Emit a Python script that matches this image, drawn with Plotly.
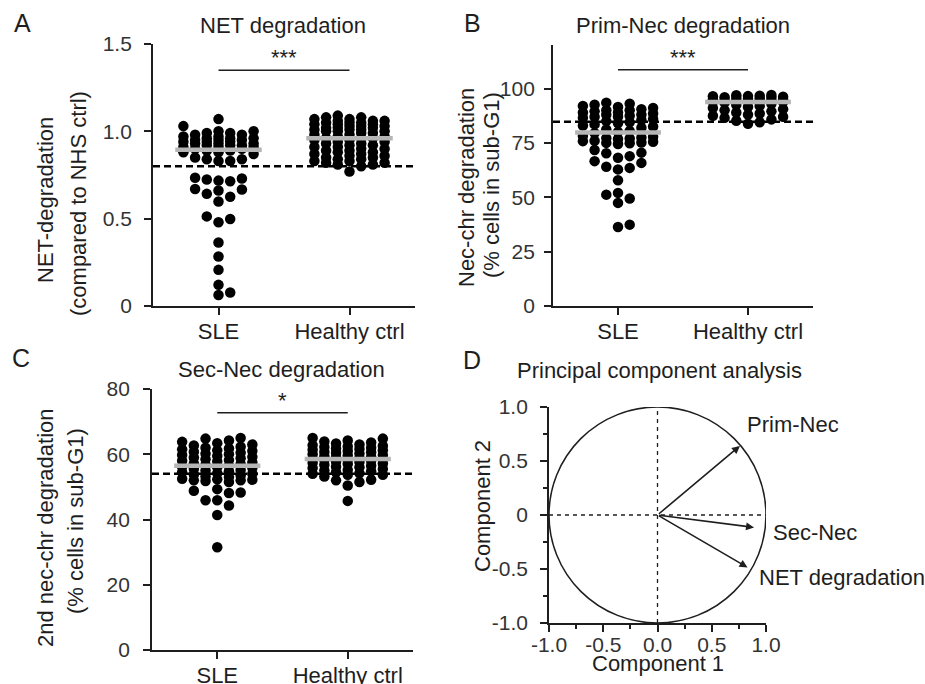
import numpy as np
import plotly.graph_objects as go

# ---------------- data ----------------
categories = ["SLE", "Healthy ctrl"]

net_sle = [1.07, 1.03, 1.00, 1.00, 0.99, 0.99, 0.98, 0.98, 0.97, 0.97, 0.96, 0.96, 0.96, 0.95, 0.95,
           0.95, 0.94, 0.94, 0.94, 0.93, 0.93, 0.93, 0.92, 0.92, 0.92, 0.91, 0.91, 0.91, 0.90, 0.90,
           0.89, 0.89, 0.88, 0.88, 0.87, 0.85, 0.84, 0.84, 0.83, 0.83,
           0.734, 0.724, 0.714, 0.718, 0.73, 0.661, 0.67, 0.667, 0.642, 0.625, 0.598, 0.513, 0.498,
           0.479, 0.364, 0.283, 0.207, 0.121, 0.063, 0.077]
net_hc = [1.09, 1.08, 1.08, 1.07, 1.07, 1.06, 1.06, 1.06, 1.05, 1.05, 1.05, 1.04, 1.04, 1.04, 1.03,
          1.03, 1.03, 1.02, 1.02, 1.02, 1.01, 1.01, 1.01, 1.00, 1.00, 1.00, 0.99, 0.99, 0.98, 0.98,
          0.97, 0.97, 0.96, 0.96, 0.96, 0.95, 0.95, 0.94, 0.94, 0.93, 0.93, 0.92, 0.92, 0.91, 0.91,
          0.90, 0.90, 0.89, 0.89, 0.88, 0.88, 0.87, 0.87, 0.86, 0.86, 0.85, 0.85, 0.84, 0.84, 0.83,
          0.83, 0.82, 0.82, 0.81, 0.81, 0.80, 0.77]

prim_sle = [36.3, 37.4, 47.4, 49.4, 51.2, 52.0, 57.8, 62.8, 63.5, 64.0, 65.8, 66.6, 68.2, 68.9, 70.2,
            70.5, 71.7, 74.5, 74.8, 75.0, 75.2, 75.5, 75.8, 76.0, 76.8, 77.0, 77.2, 77.5, 77.8, 78.2,
            79.5, 80.5, 81.2, 82.0, 82.5, 83.0, 83.5, 84.0, 84.5, 85.0, 85.5, 86.0, 86.5, 87.0, 87.0,
            87.5, 88.0, 88.0, 88.5, 89.0, 89.0, 89.5, 90.0, 90.0, 90.5, 91.0, 91.5, 92.0, 92.5, 93.0,
            93.5, 80.0]
prim_hc = [97.0, 96.9, 96.7, 96.5, 96.4, 96.2, 96.0, 95.8, 95.6, 95.4, 95.2, 95.0, 94.8, 94.6, 94.4,
           94.2, 94.0, 94.0, 93.9, 93.8, 93.5, 93.0, 92.5, 92.0, 91.5, 91.0, 90.5, 90.0, 89.5, 89.0,
           88.5, 88.0, 87.5, 87.0, 86.5, 85.8, 85.2, 84.5, 83.8]

sec_sle = [31.5, 41.4, 44.3, 45.9, 45.9, 48.1, 48.3, 48.8, 49.3, 51.5, 51.8, 52.0, 52.0, 52.2, 52.3,
           52.5, 53.0, 53.2, 53.5, 53.8, 54.0, 54.2, 54.5, 54.8, 55.0, 55.2, 55.5, 55.8, 56.0, 56.2,
           56.5, 56.8, 57.0, 57.2, 57.5, 57.8, 58.0, 58.2, 58.5, 58.8, 59.0, 59.2, 59.5, 59.8, 60.0,
           60.2, 60.5, 60.8, 61.0, 61.2, 61.5, 61.8, 62.0, 62.3, 62.7, 63.0, 63.4, 63.8, 64.2, 64.8,
           65.0]
sec_hc = [45.7, 50.4, 51.5, 52.0, 52.2, 53.2, 53.7, 53.7, 54.0, 54.2, 54.5, 54.8, 55.0, 55.2, 55.5,
          55.8, 56.0, 56.2, 56.5, 56.8, 57.0, 57.2, 57.4, 57.6, 57.8, 58.0, 58.2, 58.4, 58.5, 58.6,
          58.8, 59.0, 59.2, 59.4, 59.6, 59.8, 60.0, 60.2, 60.4, 60.6, 60.8, 61.0, 61.2, 61.4, 61.6,
          61.8, 62.0, 62.2, 62.4, 62.6, 62.8, 63.0, 63.3, 63.6, 63.9, 64.2, 64.8, 65.0]

net_cutoff, prim_cutoff, sec_cutoff = 0.80, 84.7, 54.0
net_sig, prim_sig, sec_sig = 1.35, 108.6, 72.7
net_stars, prim_stars, sec_stars = "***", "***", "*"

net_yticks = [0, 0.5, 1.0, 1.5]
net_yticktext = ["0", "0.5", "1.0", "1.5"]
prim_yticks = [0, 25, 50, 75, 100]
sec_yticks = [0, 20, 40, 60, 80]

pca_vars = ["Prim-Nec", "Sec-Nec", "NET degradation"]
pca_c1 = [0.76, 0.89, 0.83]
pca_c2 = [0.64, -0.115, -0.485]
pca_ticks = [-1.0, -0.5, 0.0, 0.5, 1.0]
pca_xticktext = ["-1.0", "-0.5", "0.0", "0.5", "1.0"]
pca_yticktext = ["-1.0", "-0.5", "0", "0.5", "1.0"]

# ---------------- layout helpers ----------------
W, H = 925, 684
FONT = "Liberation Sans, Arial, sans-serif"
INK = "#1e1e1e"
TICK = "#333333"


def dx(a, b):
    return [a / W, b / W]


def dy(top, bottom):
    return [1 - bottom / H, 1 - top / H]


def swarm_offsets(vals, px_per_cat, px_per_unit, step=11.7, min_d=9.5, ncols=3):
    vals = np.asarray(vals, float)
    order = np.argsort(vals, kind="stable")
    cands = [0]
    for k in range(1, ncols + 1):
        cands += [k, -k]
    placed = []
    offs = np.zeros(len(vals))
    for i in order:
        y = vals[i] * px_per_unit
        chosen, bestc, bestd = None, 0, -1.0
        for c in cands:
            x = c * step
            d = min([np.hypot(x - px, y - py) for px, py in placed], default=1e9)
            if d >= min_d:
                chosen = c
                break
            if d > bestd:
                bestd, bestc = d, c
        if chosen is None:
            chosen = bestc
        placed.append((chosen * step, y))
        offs[i] = chosen * step / px_per_cat
    return offs


panels = [
    dict(ax="", px=(153, 415), py=(44, 306), yr=(0, 1.5), groups=(net_sle, net_hc), cut=net_cutoff,
         sig=net_sig, stars=net_stars, yt=net_yticks, ytt=net_yticktext, ystand=8, xline0=-0.5),
    dict(ax="2", px=(553, 813), py=(45, 306), yr=(0, 120), groups=(prim_sle, prim_hc), cut=prim_cutoff,
         sig=prim_sig, stars=prim_stars, yt=prim_yticks, ytt=[str(v) for v in prim_yticks], ystand=5,
         xline0=-0.545),
    dict(ax="3", px=(152, 413), py=(389, 650), yr=(0, 80), groups=(sec_sle, sec_hc), cut=sec_cutoff,
         sig=sec_sig, stars=sec_stars, yt=sec_yticks, ytt=[str(v) for v in sec_yticks], ystand=9,
         xline0=-0.5),
]

fig = go.Figure()
annotations = []
shapes = []
layout_axes = {}

for p in panels:
    xa, ya = "x" + p["ax"], "y" + p["ax"]
    px_per_cat = (p["px"][1] - p["px"][0]) / 2.0
    px_per_unit = (p["py"][1] - p["py"][0]) / (p["yr"][1] - p["yr"][0])
    fig.add_trace(go.Scatter(x=[-0.5, 1.5], y=[p["cut"], p["cut"]], mode="lines", xaxis=xa, yaxis=ya,
                             line=dict(color="black", width=2.5, dash="7px,4px"), hoverinfo="skip",
                             showlegend=False, cliponaxis=False))
    for gi, vals in enumerate(p["groups"]):
        offs = swarm_offsets(vals, px_per_cat, px_per_unit)
        fig.add_trace(go.Scatter(x=gi + offs, y=vals, mode="markers", xaxis=xa, yaxis=ya,
                                 marker=dict(color="black", size=10.5, line=dict(width=0)),
                                 showlegend=False, cliponaxis=False))
    for gi, vals in enumerate(p["groups"]):
        med = float(np.median(vals))
        fig.add_trace(go.Scatter(x=[gi - 0.33, gi + 0.33], y=[med, med], mode="lines", xaxis=xa, yaxis=ya,
                                 line=dict(color="#b5b5b5", width=4.5), showlegend=False,
                                 hoverinfo="skip", cliponaxis=False))
    fig.add_trace(go.Scatter(x=[0, 1], y=[p["sig"], p["sig"]], mode="lines", xaxis=xa, yaxis=ya,
                             line=dict(color=INK, width=1.5), showlegend=False, hoverinfo="skip",
                             cliponaxis=False))
    annotations.append(dict(x=0.5, y=p["sig"], xref=xa, yref=ya, text=p["stars"], showarrow=False,
                            yanchor="bottom", yshift=-2, font=dict(size=22, color=INK, family=FONT)))
    if p["xline0"] < -0.5:
        # small overhang of the x-axis line to the left of the y axis (panel B)
        shapes.append(dict(type="line", xref=xa, yref=ya, x0=p["xline0"], x1=-0.5, y0=0, y1=0,
                           line=dict(color=INK, width=1.8)))
    xkey = "xaxis" + p["ax"]
    ykey = "yaxis" + p["ax"]
    layout_axes[xkey] = dict(domain=dx(*p["px"]), anchor=ya, range=[-0.5, 1.5], tickmode="array",
                             tickvals=[0, 1], ticktext=categories, showline=True, linecolor=INK,
                             linewidth=1.8, ticks="outside", ticklen=7, tickwidth=1.8, tickcolor=INK,
                             tickfont=dict(size=22, color=INK, family=FONT), showgrid=False,
                             zeroline=False, ticklabelstandoff=-2, fixedrange=True, automargin=False)
    layout_axes[ykey] = dict(domain=dy(*p["py"]), anchor=xa, range=list(p["yr"]), tickmode="array",
                             tickvals=p["yt"], ticktext=p["ytt"], showline=True, linecolor=INK,
                             linewidth=1.8, ticks="outside", ticklen=7, tickwidth=1.8, tickcolor=INK,
                             tickfont=dict(size=21, color=TICK, family=FONT), showgrid=False,
                             zeroline=False, ticklabelstandoff=p["ystand"], fixedrange=True,
                             automargin=False)

# ---------------- PCA panel ----------------
minor_d = dict(tickmode="array", tickvals=[-0.75, -0.25, 0.25, 0.75], ticks="outside", ticklen=4,
               tickwidth=1.5, tickcolor=INK)
layout_axes["xaxis4"] = dict(domain=dx(549, 766), anchor="y4", range=[-1, 1], tickmode="array",
                             tickvals=pca_ticks, ticktext=pca_xticktext, showline=True, linecolor=INK,
                             linewidth=1.8, ticks="outside", ticklen=7, tickwidth=1.8, tickcolor=INK,
                             minor=minor_d, tickfont=dict(size=21, color=TICK, family=FONT),
                             showgrid=False, zeroline=False, ticklabelstandoff=-5, fixedrange=True,
                             automargin=False)
layout_axes["yaxis4"] = dict(domain=dy(407, 623), anchor="x4", range=[-1, 1], tickmode="array",
                             tickvals=pca_ticks, ticktext=pca_yticktext, showline=True, linecolor=INK,
                             linewidth=1.8, ticks="outside", ticklen=7, tickwidth=1.8, tickcolor=INK,
                             minor=minor_d, tickfont=dict(size=21, color=TICK, family=FONT),
                             showgrid=False, zeroline=False, ticklabelstandoff=8, fixedrange=True,
                             automargin=False)

shapes.append(dict(type="circle", xref="x4", yref="y4", x0=-1, x1=1, y0=-1, y1=1,
                   line=dict(color=INK, width=1.5)))
shapes.append(dict(type="line", xref="x4", yref="y4", x0=0, x1=0, y0=-1, y1=1,
                   line=dict(color=INK, width=1.3, dash="4px,4px")))
shapes.append(dict(type="line", xref="x4", yref="y4", x0=-1, x1=1, y0=0, y1=0,
                   line=dict(color=INK, width=1.3, dash="4px,4px")))

# label placement relative to arrow tips, in pixels
label_shift = {"Prim-Nec": (5, 21), "Sec-Nec": (17, -5), "NET degradation": (9, -10)}
for name, c1, c2 in zip(pca_vars, pca_c1, pca_c2):
    annotations.append(dict(x=c1, y=c2, ax=0, ay=0, xref="x4", yref="y4", axref="x4", ayref="y4",
                            text="", showarrow=True, arrowhead=2, arrowsize=1, arrowwidth=1.6,
                            arrowcolor=INK, standoff=0))
    sx, sy = label_shift[name]
    annotations.append(dict(x=c1, y=c2, xref="x4", yref="y4", text=name, showarrow=False,
                            xanchor="left", yanchor="middle", xshift=sx, yshift=sy,
                            font=dict(size=22, color=INK, family=FONT)))


def txt(x, y, s, size=22, angle=0):
    return dict(x=x / W, y=1 - y / H, xref="paper", yref="paper", text=s, showarrow=False,
                xanchor="center", yanchor="middle", textangle=angle,
                font=dict(size=size, color=INK, family=FONT))


annotations += [
    txt(22, 23, "A", 25), txt(472, 23, "B", 25), txt(21, 358, "C", 25), txt(472, 360, "D", 25),
    txt(283, 26, "NET degradation"), txt(683, 26, "Prim-Nec degradation"),
    txt(281, 369, "Sec-Nec degradation"), txt(659, 370, "Principal component analysis"),
    txt(45, 200, "NET-degradation", angle=-90), txt(78, 204, "(compared to NHS ctrl)", angle=-90),
    txt(466, 187, "Nec-chr degradation", angle=-90), txt(491, 185, "(% cells in sub-G1)", angle=-90),
    txt(45, 528, "2nd nec-chr degradation", angle=-90), txt(75, 521, "(% cells in sub-G1)", angle=-90),
    txt(482, 506, "Component 2", angle=-90), txt(658, 663, "Component 1"),
]

fig.update_layout(width=W, height=H, margin=dict(l=0, r=0, t=0, b=0, autoexpand=False),
                  plot_bgcolor="white", paper_bgcolor="white", showlegend=False,
                  annotations=annotations, shapes=shapes,
                  font=dict(family=FONT, color=INK), **layout_axes)

fig.write_html("out.html", config={"displayModeBar": False},
               post_script="document.body.style.margin='0px';document.body.style.overflow='hidden';")
